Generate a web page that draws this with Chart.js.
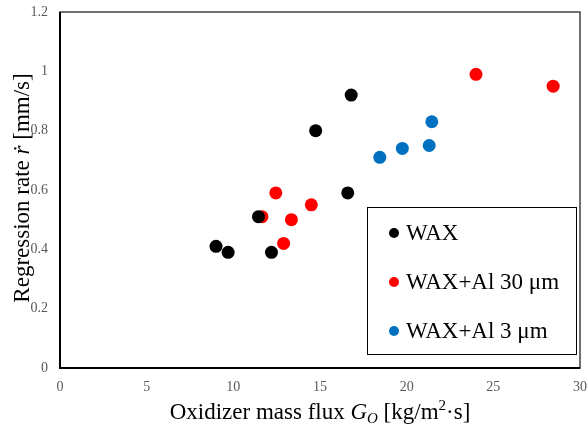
<!DOCTYPE html>
<html>
<head>
<meta charset="utf-8">
<script src="https://cdn.jsdelivr.net/npm/chart.js@4/dist/chart.umd.min.js"></script>
<style>
  html, body { margin: 0; padding: 0; background: #fff; }
  #wrap { width: 588px; height: 428px; }
</style>
</head>
<body>
<div id="wrap"><canvas id="rateChart" width="588" height="428"></canvas></div>
<script>
// data
const seriesNames = ['WAX', 'WAX+Al 30 \u03bcm', 'WAX+Al 3 \u03bcm'];
const seriesColors = ['#000000', '#ff0000', '#0070c0'];

const waxGo = [9.0, 9.7, 11.45, 12.2, 14.75, 16.6, 16.8];
const waxRate = [0.41, 0.39, 0.51, 0.39, 0.80, 0.59, 0.92];

const al30Go = [11.65, 12.45, 12.9, 13.35, 14.5, 24.0, 28.45];
const al30Rate = [0.51, 0.59, 0.42, 0.50, 0.55, 0.99, 0.95];

const al3Go = [18.45, 19.75, 21.3, 21.45];
const al3Rate = [0.71, 0.74, 0.75, 0.83];

const xTicks = [0, 5, 10, 15, 20, 25, 30];
const yTicks = [0, 0.2, 0.4, 0.6, 0.8, 1, 1.2];

function toPoints(xs, ys) {
    return xs.map((x, i) => ({ x: x, y: ys[i] }));
}

const serif = "'Liberation Serif', 'Times New Roman', serif";

// frame, axis titles (mixed italic) and boxed legend
const decorations = {
    id: 'decorations',
    afterDraw(chart) {
        const ctx = chart.ctx;
        const a = chart.chartArea;
        ctx.save();

        // plot frame
        ctx.strokeStyle = '#404040';
        ctx.lineWidth = 1.5;
        ctx.strokeRect(a.left, a.top, a.right - a.left, a.bottom - a.top);
        ctx.strokeStyle = '#000';
        ctx.lineWidth = 2;
        ctx.beginPath();
        ctx.moveTo(a.left, a.top);
        ctx.lineTo(a.left, a.bottom);
        ctx.lineTo(a.right, a.bottom);
        ctx.stroke();

        ctx.fillStyle = '#000';
        ctx.textBaseline = 'alphabetic';

        // x title
        const xParts = [
            { t: 'Oxidizer mass flux ', f: '23px ' + serif },
            { t: 'G', f: 'italic 23px ' + serif },
            { t: 'O', f: 'italic 15px ' + serif, dy: 4 },
            { t: ' [kg/m', f: '23px ' + serif },
            { t: '2', f: '15px ' + serif, dy: -9 },
            { t: '\u00b7s]', f: '23px ' + serif }
        ];
        drawParts(ctx, xParts, (a.left + a.right) / 2, 419);

        // y title
        ctx.save();
        ctx.translate(29, 188);
        ctx.rotate(-Math.PI / 2);
        const yParts = [
            { t: 'Regression rate ', f: '23px ' + serif },
            { t: '\u1e59', f: 'italic 23px ' + serif },
            { t: ' [mm/s]', f: '23px ' + serif }
        ];
        drawParts(ctx, yParts, 0, 0);
        ctx.restore();

        // legend box
        const bx = 367, by = 207, bw = 209, bh = 147;
        ctx.fillStyle = '#fff';
        ctx.fillRect(bx, by, bw, bh);
        ctx.strokeStyle = '#000';
        ctx.lineWidth = 1;
        ctx.strokeRect(bx + 0.5, by + 0.5, bw, bh);
        ctx.font = '23px ' + serif;
        ctx.textBaseline = 'middle';
        chart.data.datasets.forEach((ds, i) => {
            const cy = 233 + i * 49;
            ctx.fillStyle = ds.backgroundColor;
            ctx.beginPath();
            ctx.arc(394, cy, 5, 0, Math.PI * 2);
            ctx.fill();
            ctx.fillStyle = '#000';
            ctx.fillText(ds.label, 406, cy + 1);
        });

        ctx.restore();
    }
};

function drawParts(ctx, parts, cx, baseY) {
    let total = 0;
    parts.forEach(p => { ctx.font = p.f; total += ctx.measureText(p.t).width; });
    let x = cx - total / 2;
    ctx.textAlign = 'left';
    parts.forEach(p => {
        ctx.font = p.f;
        ctx.fillText(p.t, x, baseY + (p.dy || 0));
        x += ctx.measureText(p.t).width;
    });
}

const ctx = document.getElementById('rateChart').getContext('2d');
new Chart(ctx, {
    type: 'scatter',
    data: {
        datasets: [
            { label: seriesNames[0], data: toPoints(waxGo, waxRate), backgroundColor: seriesColors[0] },
            { label: seriesNames[1], data: toPoints(al30Go, al30Rate), backgroundColor: seriesColors[1] },
            { label: seriesNames[2], data: toPoints(al3Go, al3Rate), backgroundColor: seriesColors[2] }
        ]
    },
    options: {
        responsive: false,
        animation: false,
        layout: { padding: { top: 12, right: 8, left: 0, bottom: 0 } },
        elements: { point: { radius: 6.5, borderWidth: 0, hoverRadius: 6.5 } },
        plugins: { legend: { display: false }, tooltip: { enabled: false } },
        scales: {
            x: {
                type: 'linear',
                min: 0, max: 30,
                afterBuildTicks: s => { s.ticks = xTicks.map(v => ({ value: v })); },
                afterFit: s => { s.height = 60; s.paddingLeft = 0; s.paddingRight = 0; },
                grid: { display: false, drawTicks: false },
                border: { display: false },
                ticks: { color: '#595959', font: { family: serif, size: 14 }, padding: 11 }
            },
            y: {
                min: 0, max: 1.2,
                afterBuildTicks: s => { s.ticks = yTicks.map(v => ({ value: v })); },
                afterFit: s => { s.width = 60; s.paddingTop = 0; s.paddingBottom = 0; },
                grid: { display: false, drawTicks: false },
                border: { display: false },
                ticks: { color: '#595959', font: { family: serif, size: 14 }, padding: 12,
                         callback: v => String(Math.round(v * 10) / 10) }
            }
        }
    },
    plugins: [decorations]
});
</script>
</body>
</html>
